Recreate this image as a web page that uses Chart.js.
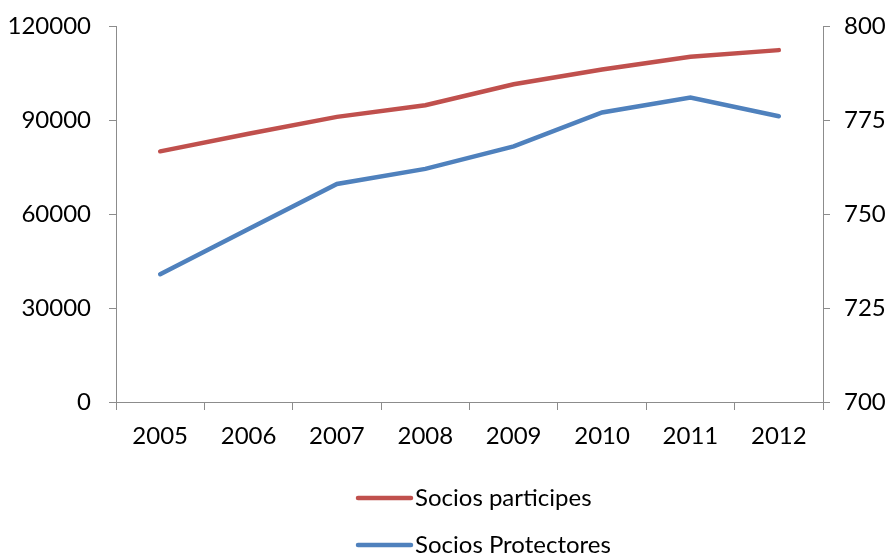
<!DOCTYPE html>
<html>
<head>
<meta charset="utf-8">
<script src="https://cdn.jsdelivr.net/npm/chart.js@4.4.1/dist/chart.umd.min.js"></script>
<style>
  html, body { margin: 0; padding: 0; background: #fff; }
  #wrap { width: 890px; height: 554px; position: relative; }
</style>
</head>
<body>
<div id="wrap"><canvas id="socios_chart"></canvas></div>
<script>
// Years and series
var years = ['2005', '2006', '2007', '2008', '2009', '2010', '2011', '2012'];
var sociosParticipes = [80000, 85600, 91000, 94700, 101400, 106100, 110200, 112300];
var sociosProtectores = [734, 746, 758, 762, 768, 777, 781, 776];

var axisColor = '#8c8c8c';
var fontFamily = 'Lato, "Open Sans", sans-serif';
var fontSize = 24;

// legend drawn as a vertical list under the plot
var stackedLegend = {
    id: 'stackedLegend',
    afterDraw: function (chart) {
        var ctx = chart.ctx;
        var rows = [498, 545];
        ctx.save();
        ctx.font = fontSize + 'px ' + fontFamily;
        ctx.textBaseline = 'middle';
        ctx.textAlign = 'left';
        chart.data.datasets.forEach(function (ds, i) {
            var y = rows[i];
            ctx.strokeStyle = ds.borderColor;
            ctx.lineWidth = 4.5;
            ctx.lineCap = 'round';
            ctx.beginPath();
            ctx.moveTo(358, y);
            ctx.lineTo(411, y);
            ctx.stroke();
            ctx.fillStyle = '#000';
            ctx.fillText(ds.label, 415, y);
        });
        ctx.restore();
    }
};

var plainNumber = function (value) { return String(value); };

// fixed axis widths, no extra room for overhanging labels
var fitY = function (w) {
    return function (s) {
        s.width = w;
        s.paddingTop = 0;
        s.paddingBottom = 0;
    };
};

var ctx = document.getElementById('socios_chart').getContext('2d');
var chart = new Chart(ctx, {
    type: 'line',
    data: {
        labels: years,
        datasets: [{
            label: 'Socios participes',
            data: sociosParticipes,
            yAxisID: 'y',
            borderColor: '#c0504d',
            borderWidth: 4.5,
            borderCapStyle: 'round',
            pointRadius: 0,
            tension: 0,
            fill: false
        }, {
            label: 'Socios Protectores',
            data: sociosProtectores,
            yAxisID: 'y1',
            borderColor: '#4f81bd',
            borderWidth: 4.5,
            borderCapStyle: 'round',
            pointRadius: 0,
            tension: 0,
            fill: false
        }]
    },
    options: {
        responsive: true,
        maintainAspectRatio: false,
        animation: false,
        layout: { padding: { top: 26, bottom: 92, left: 0, right: 0 } },
        plugins: {
            legend: { display: false },
            tooltip: { enabled: false }
        },
        scales: {
            x: {
                offset: true,
                grid: { offset: true, drawOnChartArea: false, tickLength: 8, tickColor: axisColor, tickWidth: 1 },
                border: { color: axisColor, width: 1 },
                ticks: { color: '#000', font: { family: fontFamily, size: fontSize }, padding: 12, maxRotation: 0 },
                afterFit: function (s) { s.height = 60; s.paddingLeft = 0; s.paddingRight = 0; }
            },
            y: {
                position: 'left',
                min: 0,
                max: 120000,
                grid: { drawOnChartArea: false, tickLength: 7, tickColor: axisColor },
                border: { color: axisColor, width: 1 },
                ticks: { stepSize: 30000, color: '#000', font: { family: fontFamily, size: fontSize }, padding: 18, callback: plainNumber },
                afterFit: fitY(116)
            },
            y1: {
                position: 'right',
                min: 700,
                max: 800,
                grid: { drawOnChartArea: false, tickLength: 7, tickColor: axisColor },
                border: { color: axisColor, width: 1 },
                ticks: { stepSize: 25, color: '#000', font: { family: fontFamily, size: fontSize }, padding: 14, callback: plainNumber },
                afterFit: fitY(67)
            }
        }
    },
    plugins: [stackedLegend]
});
</script>
</body>
</html>
